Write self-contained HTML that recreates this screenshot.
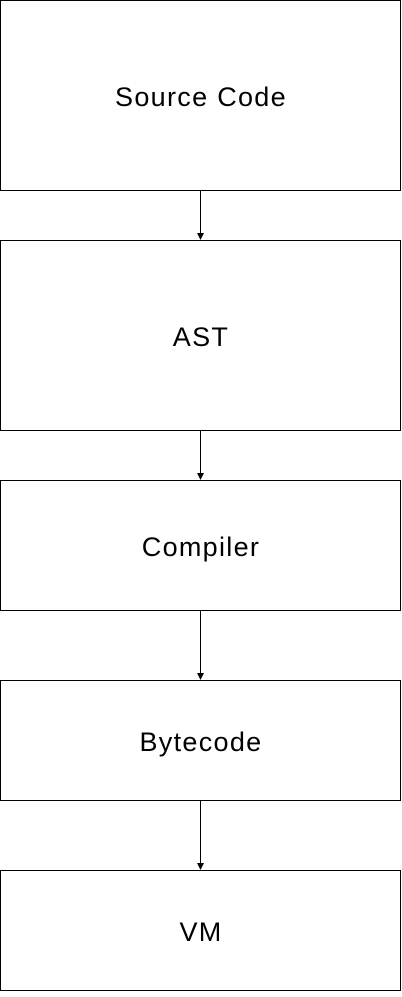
<!DOCTYPE html>
<html><head><style>html,body{margin:0;padding:0;background:#fff;}</style></head>
<body>
<svg width="402" height="992" xmlns="http://www.w3.org/2000/svg" font-family="Liberation Sans, Arial, sans-serif" font-size="27" letter-spacing="1.3">
<g fill="#fff" stroke="#000" stroke-width="1">
<rect x="0.5" y="0.5" width="400" height="190"/>
<rect x="0.5" y="240.5" width="400" height="190"/>
<rect x="0.5" y="480.5" width="400" height="130"/>
<rect x="0.5" y="680.5" width="400" height="120"/>
<rect x="0.5" y="870.5" width="400" height="120"/>
</g>
<g stroke="#000" stroke-width="1">
<line x1="200.5" y1="191" x2="200.5" y2="234"/>
<line x1="200.5" y1="431" x2="200.5" y2="474"/>
<line x1="200.5" y1="611" x2="200.5" y2="674"/>
<line x1="200.5" y1="801" x2="200.5" y2="864"/>
</g>
<g fill="#000">
<polygon points="197,233 204,233 200.5,240"/>
<polygon points="197,473 204,473 200.5,480"/>
<polygon points="197,673 204,673 200.5,680"/>
<polygon points="197,863 204,863 200.5,870"/>
</g>
<g text-anchor="middle" fill="#000">
<text x="201" y="106">Source Code</text>
<text x="201" y="346">AST</text>
<text x="201" y="556">Compiler</text>
<text x="201" y="751">Bytecode</text>
<text x="201" y="941">VM</text>
</g>
</svg>
</body></html>
